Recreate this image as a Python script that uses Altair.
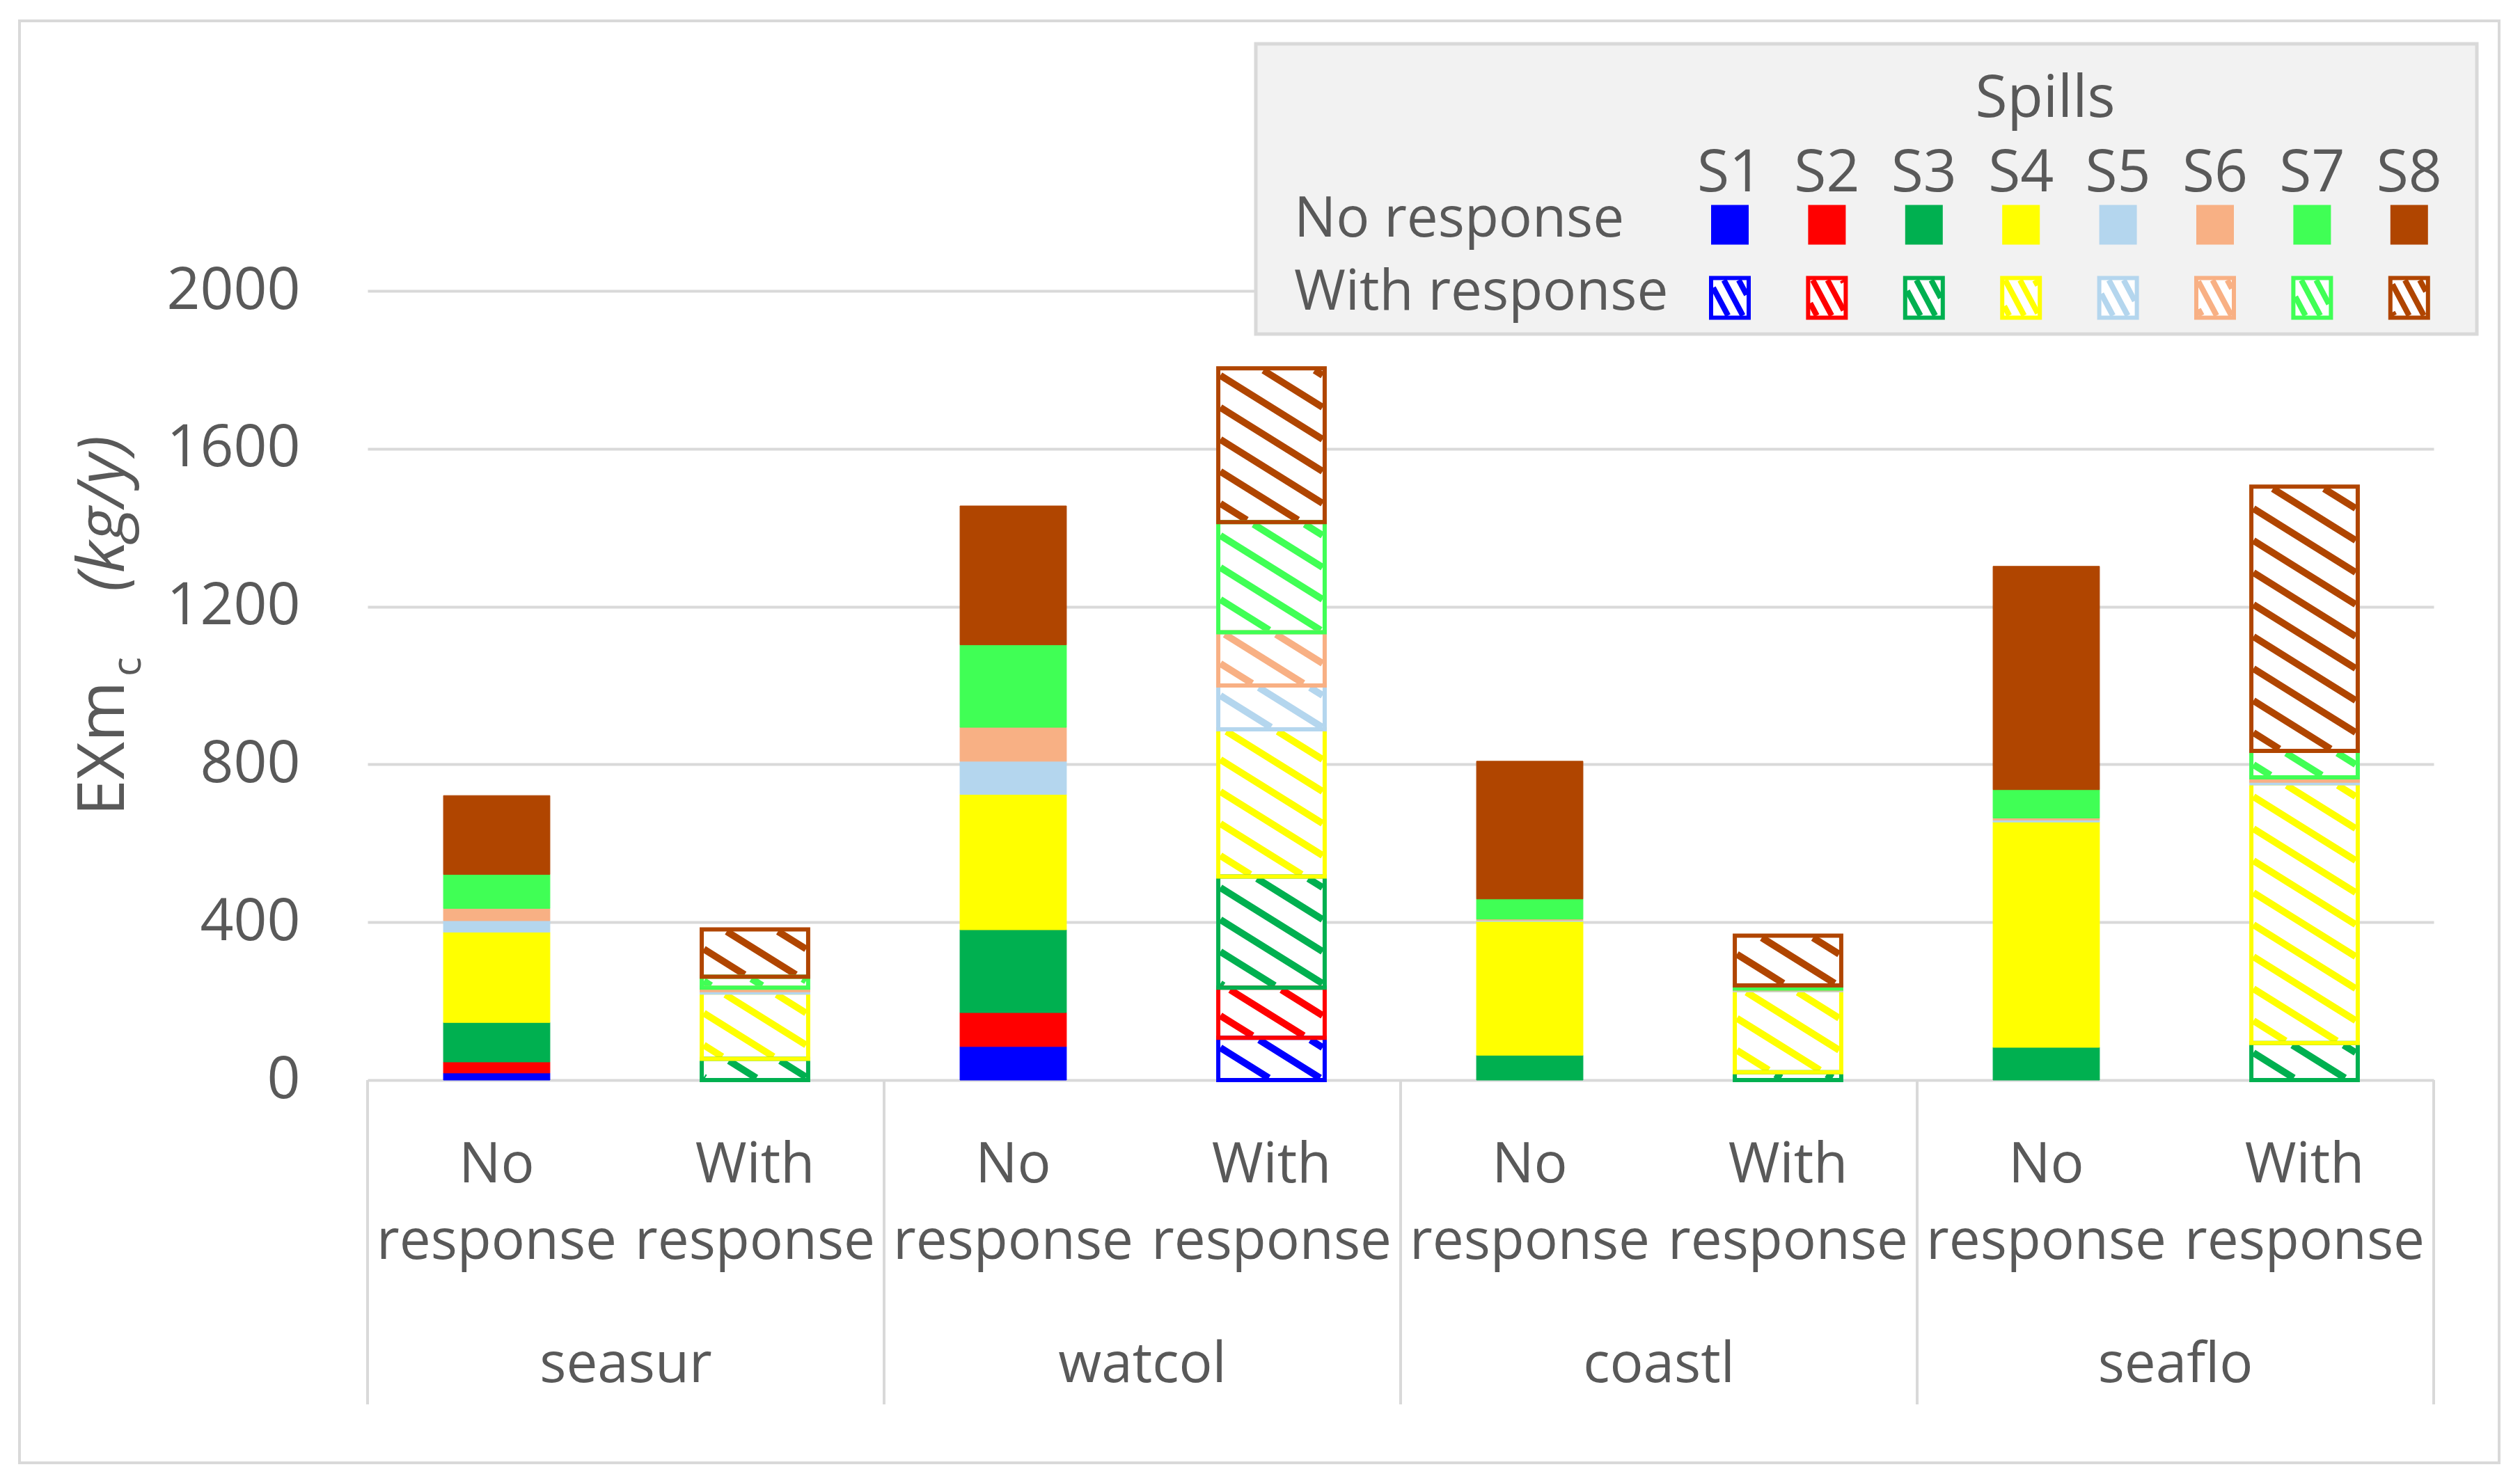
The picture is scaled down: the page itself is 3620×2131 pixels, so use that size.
import altair as alt
import numpy as np
import pandas as pd

# ---------------- data ----------------
groups = ["seasur", "watcol", "coastl", "seaflo"]
responses = ["No response", "With response"]
response_labels = ["No\nresponse", "With\nresponse"]
spills = ["S1", "S2", "S3", "S4", "S5", "S6", "S7", "S8"]
spill_colors = ["#0000FF", "#FF0000", "#00B050", "#FFFF00",
                "#B4D6EE", "#F8B084", "#40FF55", "#B04500"]
y_ticks = [0, 400, 800, 1200, 1600, 2000]

# values S1..S8 for each bar (kg/y)
seasur_no = [18, 28, 100, 229, 29, 31, 86, 200]
seasur_with = [0, 0, 54, 168, 6, 6, 28, 120]
watcol_no = [85, 86, 210, 343, 84, 86, 209, 352]
watcol_with = [107, 127, 282, 373, 111, 135, 279, 390]
coastl_no = [0, 0, 63, 339, 3, 3, 51, 349]
coastl_with = [0, 0, 20, 208, 2, 2, 8, 126]
seaflo_no = [0, 0, 83, 571, 5, 5, 72, 566]
seaflo_with = [0, 0, 94, 658, 7, 8, 67, 670]

bar_values = [seasur_no, seasur_with, watcol_no, watcol_with,
              coastl_no, coastl_with, seaflo_no, seaflo_with]

# ---------------- layout ----------------
W, H = 2968, 1134
N_BARS = 8
HALF = 0.206
PX_X = W / N_BARS
PX_Y = H / 2000.0
FONT = "Open Sans"
TXT = "#595959"
GRID = "#D9D9D9"

rows = []
for b, vals in enumerate(bar_values):
    g = groups[b // 2]
    r = responses[b % 2]
    base = 0
    for s, v in zip(spills, vals):
        rows.append(dict(group=g, response=r, spill=s, value=v,
                         y0=base, y1=base + v,
                         xa=b + 0.5 - HALF, xb=b + 0.5 + HALF))
        base += v
df = pd.DataFrame(rows)
df = df[df["value"] > 0]
solid = df[df["response"] == "No response"]
hatched = df[df["response"] == "With response"]


def hatch(x0, x1, y0, y1, spacing, ang):
    """diagonal lines clipped to a pixel rectangle (screen coords, y down)"""
    t = np.tan(np.radians(ang))
    out = []
    cmin = y0 - t * x1
    cmax = y1 - t * x0
    for k in range(int(np.floor(cmin / spacing)), int(np.ceil(cmax / spacing)) + 1):
        c = k * spacing
        xa = max(x0, (y0 - c) / t)
        xb = min(x1, (y1 - c) / t)
        if xb - xa > 1.5:
            out.append((xa, c + t * xa, xb, c + t * xb))
    return out


INSET = 3
hrows = []
for _, r in hatched.iterrows():
    px0 = r["xa"] * PX_X + INSET
    px1 = r["xb"] * PX_X - INSET
    top = H - r["y1"] * PX_Y + INSET
    bot = H - r["y0"] * PX_Y - INSET
    if bot - top < 1:
        continue
    for (a, b, c, d) in hatch(px0, px1, top, bot, 46, 32):
        hrows.append(dict(spill=r["spill"], hx=a / PX_X, hy=(H - b) / PX_Y,
                          hx2=c / PX_X, hy2=(H - d) / PX_Y))
hdf = pd.DataFrame(hrows)

xscale = alt.Scale(domain=[0, N_BARS], nice=False, zero=False)
yscale = alt.Scale(domain=[0, 2000], nice=False)
cscale = alt.Scale(domain=spills, range=spill_colors)

solid_layer = alt.Chart(solid).mark_rect(strokeWidth=1).encode(
    x=alt.X("xa:Q", scale=xscale, axis=None),
    x2="xb:Q",
    y=alt.Y("y0:Q", scale=yscale,
            axis=alt.Axis(values=y_ticks, title=None, grid=True, gridColor=GRID,
                          gridWidth=4, domain=False, ticks=False, format="d",
                          labelLimit=500, labelFontSize=84, labelFont=FONT,
                          labelColor=TXT, labelPadding=97)),
    y2="y1:Q",
    fill=alt.Fill("spill:N", scale=cscale, legend=None),
    stroke=alt.Stroke("spill:N", scale=cscale, legend=None),
)

hatch_fill = alt.Chart(hatched).mark_rect(fill="white").encode(
    x=alt.X("xa:Q", scale=xscale, axis=None), x2="xb:Q",
    y=alt.Y("y0:Q", scale=yscale, axis=None), y2="y1:Q",
)

hatch_lines = alt.Chart(hdf).mark_rule(strokeWidth=10, strokeCap="butt").encode(
    x=alt.X("hx:Q", scale=xscale, axis=None), x2="hx2:Q",
    y=alt.Y("hy:Q", scale=yscale, axis=None), y2="hy2:Q",
    color=alt.Color("spill:N", scale=cscale, legend=None),
)

hatch_border = alt.Chart(hatched).mark_rect(fillOpacity=0, strokeWidth=6).encode(
    x=alt.X("xa:Q", scale=xscale, axis=None), x2="xb:Q",
    y=alt.Y("y0:Q", scale=yscale, axis=None), y2="y1:Q",
    stroke=alt.Stroke("spill:N", scale=cscale, legend=None),
)

# category axis (two levels)
sep_df = pd.DataFrame({"sx": [2 * i for i in range(len(groups) + 1)]})
separators = alt.Chart(sep_df).mark_rule(color=GRID, strokeWidth=4).encode(
    x=alt.X("sx:Q", scale=xscale, axis=None),
    y=alt.value(H), y2=alt.value(1600),
)

lab_df = pd.DataFrame({"cx": [b + 0.5 for b in range(N_BARS)],
                       "lab": [response_labels[b % 2] for b in range(N_BARS)]})
cat_labels = alt.Chart(lab_df).mark_text(
    fontSize=80, font=FONT, color=TXT, baseline="alphabetic", align="center",
    lineBreak="\n", lineHeight=110).encode(
    x=alt.X("cx:Q", scale=xscale, axis=None), y=alt.value(1281), text="lab:N")

grp_df = pd.DataFrame({"gx": [2 * i + 1 for i in range(len(groups))], "g": groups})
grp_labels = alt.Chart(grp_df).mark_text(
    fontSize=80, font=FONT, color=TXT, baseline="alphabetic", align="center").encode(
    x=alt.X("gx:Q", scale=xscale, axis=None), y=alt.value(1568), text="g:N")

# y-axis title: EXm_c (kg/y)
one = pd.DataFrame({"k": [0]})
t_main = alt.Chart(one).mark_text(text="EXm", angle=270, fontSize=94, font=FONT,
                                  color=TXT, align="right", baseline="alphabetic").encode(
    x=alt.value(-350), y=alt.value(561))
t_sub = alt.Chart(one).mark_text(text="c", angle=270, fontSize=58, font=FONT,
                                 color=TXT, align="left", baseline="alphabetic").encode(
    x=alt.value(-326), y=alt.value(554))
t_unit = alt.Chart(one).mark_text(text="(kg/y)", angle=270, fontSize=94, font=FONT,
                                  fontStyle="italic", color=TXT, align="center",
                                  baseline="alphabetic").encode(
    x=alt.value(-350), y=alt.value(320))

# chart frame
frame = alt.Chart(one).mark_rect(fillOpacity=0, stroke=GRID, strokeWidth=4).encode(
    x=alt.value(-500), x2=alt.value(3062), y=alt.value(-388), y2=alt.value(1684))

# ---------------- legend ----------------
LX0, LSTEP = 1957, 139.4
SW, SH = 27, 28.5
leg_box = alt.Chart(one).mark_rect(fill="#F2F2F2", stroke=GRID, strokeWidth=5).encode(
    x=alt.value(1276), x2=alt.value(3030), y=alt.value(-355), y2=alt.value(62))
leg_title = alt.Chart(one).mark_text(text="Spills", fontSize=84, font=FONT, color=TXT,
                                     align="center", baseline="alphabetic").encode(
    x=alt.value(2410), y=alt.value(-250))
leg_sdf = pd.DataFrame({"spill": spills,
                        "lx": [LX0 + i * LSTEP for i in range(len(spills))]})
leg_sdf["lx0"] = leg_sdf["lx"] - SW
leg_sdf["lx1"] = leg_sdf["lx"] + SW
leg_slabels = alt.Chart(leg_sdf).mark_text(fontSize=84, font=FONT, color=TXT,
                                           align="center", baseline="alphabetic").encode(
    x=alt.X("lx:Q", scale=None, axis=None), y=alt.value(-143), text="spill:N")
leg_rlabels = alt.Chart(pd.DataFrame({"r": responses, "ry": [-78, 27]})).mark_text(
    fontSize=80, font=FONT, color=TXT, align="left", baseline="alphabetic").encode(
    x=alt.value(1331), y=alt.Y("ry:Q", scale=None, axis=None), text="r:N")

ROW1, ROW2 = -95, 10
leg_solid = alt.Chart(leg_sdf).mark_rect().encode(
    x=alt.X("lx0:Q", scale=None, axis=None), x2="lx1:Q",
    y=alt.value(ROW1 - SH), y2=alt.value(ROW1 + SH),
    fill=alt.Fill("spill:N", scale=cscale, legend=None))
leg_hfill = alt.Chart(leg_sdf).mark_rect(fill="white").encode(
    x=alt.X("lx0:Q", scale=None, axis=None), x2="lx1:Q",
    y=alt.value(ROW2 - SH), y2=alt.value(ROW2 + SH))
lh_rows = []
for s, cx in zip(leg_sdf["spill"], leg_sdf["lx"]):
    for (a, b, c, d) in hatch(cx - SW + 3, cx + SW - 3, ROW2 - SH + 3, ROW2 + SH - 3, 40, 62):
        lh_rows.append(dict(spill=s, hx=a, hy=b, hx2=c, hy2=d))
lhdf = pd.DataFrame(lh_rows)
leg_hlines = alt.Chart(lhdf).mark_rule(strokeWidth=8, strokeCap="butt").encode(
    x=alt.X("hx:Q", scale=None, axis=None), x2="hx2:Q",
    y=alt.Y("hy:Q", scale=None, axis=None), y2="hy2:Q",
    color=alt.Color("spill:N", scale=cscale, legend=None))
leg_hborder = alt.Chart(leg_sdf).mark_rect(fillOpacity=0, strokeWidth=6).encode(
    x=alt.X("lx0:Q", scale=None, axis=None), x2="lx1:Q",
    y=alt.value(ROW2 - SH), y2=alt.value(ROW2 + SH),
    stroke=alt.Stroke("spill:N", scale=cscale, legend=None))

chart = alt.layer(
    frame, solid_layer, hatch_fill, hatch_lines, hatch_border,
    separators, cat_labels, grp_labels, t_main, t_sub, t_unit,
    leg_box, leg_title, leg_slabels, leg_rlabels, leg_solid,
    leg_hfill, leg_hlines, leg_hborder,
).resolve_scale(
    x="independent", y="independent", color="shared"
).properties(
    width=W, height=H,
    autosize=alt.AutoSizeParams(type="none"),
    padding={"left": 520, "top": 410, "right": 112, "bottom": 558},
    background="white",
).configure_view(strokeWidth=0)

chart.save("out.html", embed_options={"renderer": "svg", "actions": False})
